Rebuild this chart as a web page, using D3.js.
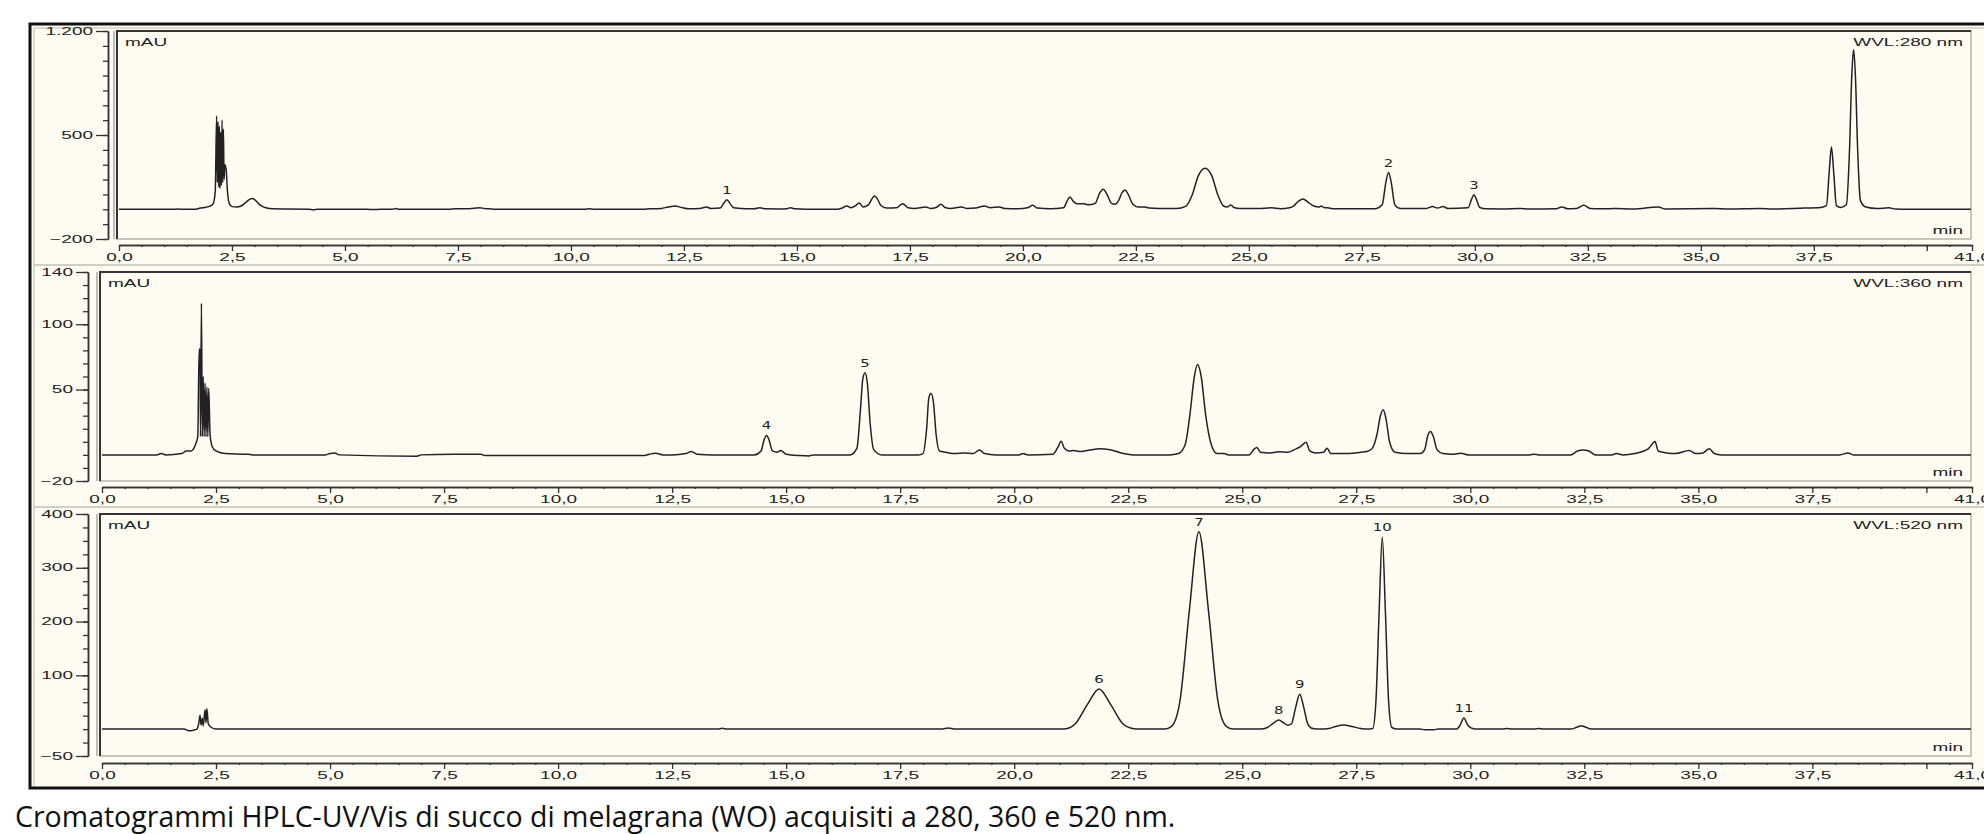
<!DOCTYPE html>
<html>
<head>
<meta charset="utf-8">
<script src="https://cdn.jsdelivr.net/npm/d3@7/dist/d3.min.js"></script>
<style>
  body { margin: 0; background: #fff; }
  svg text { font-family: "Liberation Sans", Arial, sans-serif; }
</style>
</head>
<body>
<div id="chart"></div>
<script>
// ---- data: [time (min), signal (mAU)] ----
var trace280 = [
  [0,0],[1.2,0],[1.3,2],[1.4,0],[1.7,1],[1.8,8],[1.9,12],[2.0,20],[2.08,35],[2.13,120],
  [2.16,628],[2.175,180],[2.19,590],[2.205,150],[2.22,560],[2.235,140],[2.25,520],[2.265,160],
  [2.28,601],[2.295,180],[2.31,540],[2.325,200],[2.34,300],[2.37,270],[2.4,120],[2.44,40],
  [2.5,18],[2.6,15],[2.7,22],[2.8,45],[2.9,68],[2.95,72],[3.02,60],[3.12,30],[3.25,10],[3.4,3],
  [3.7,2],[4.2,1],[4.3,-3],[4.4,0],[5.5,0],[5.6,-2],[5.8,0],[6.05,0],[6.12,5],[6.2,0],[7.3,0],
  [7.45,4],[7.75,4],[7.9,8],[7.98,11],[8.08,5],[8.2,3],[8.3,0],[10.3,0],[10.4,3],[10.5,1],
  [11.6,1],[11.75,4],[11.85,3],[12.0,6],[12.15,15],[12.3,22],[12.45,12],[12.6,3],[12.85,5],
  [13.0,16],[13.1,5],[13.3,8],[13.38,40],[13.45,65],[13.52,38],[13.6,10],[13.75,6],[13.9,3],
  [14.05,4],[14.18,11],[14.3,3],[14.6,2],[14.78,4],[14.86,11],[14.95,3],[15.2,0],[15.9,0],
  [16.0,8],[16.1,22],[16.2,10],[16.3,25],[16.38,43],[16.46,15],[16.58,30],[16.66,70],[16.72,90],
  [16.78,70],[16.86,25],[16.98,8],[17.2,10],[17.34,38],[17.46,10],[17.6,6],[17.85,16],[17.95,6],
  [18.08,12],[18.19,34],[18.28,12],[18.4,6],[18.64,16],[18.75,6],[18.95,8],[19.15,22],[19.28,10],
  [19.48,16],[19.6,5],[19.9,3],[20.1,10],[20.22,27],[20.32,8],[20.6,4],[20.9,10],[20.97,50],
  [21.04,83],[21.11,55],[21.2,38],[21.35,38],[21.45,30],[21.6,40],[21.7,110],[21.78,135],
  [21.86,100],[21.96,40],[22.03,34],[22.12,60],[22.19,110],[22.26,130],[22.33,100],[22.43,35],
  [22.55,15],[22.7,16],[22.8,8],[23.0,5],[23.4,5],[23.6,20],[23.75,100],[23.88,225],[24.03,277],
  [24.18,225],[24.31,100],[24.44,22],[24.52,15],[24.6,29],[24.67,12],[24.8,5],[25.2,5],[25.5,10],[25.7,4],
  [25.9,10],[26.0,25],[26.1,55],[26.2,70],[26.3,50],[26.45,20],[26.55,15],[26.6,22],[26.66,12],
  [26.75,10],[26.85,4],[27.3,3],[27.8,4],[27.95,30],[28.03,180],[28.09,247],[28.15,180],[28.23,30],
  [28.35,6],[28.9,5],[29.07,18],[29.17,8],[29.3,18],[29.4,6],[29.85,10],[29.93,70],[29.98,97],
  [30.03,70],[30.11,12],[30.25,3],[30.6,2],[31.0,5],[31.2,2],[31.8,4],[31.92,16],[32.05,4],
  [32.25,6],[32.41,27],[32.55,6],[32.8,3],[33.1,5],[33.5,2],[34.06,16],[34.2,2],[35.3,5],[35.6,2],
  [36.3,5],[36.6,2],[37.3,8],[37.6,10],[37.78,25],[37.84,250],[37.89,419],[37.94,250],[38.0,25],
  [38.1,12],[38.22,30],[38.29,400],[38.34,900],[38.38,1075],[38.42,900],[38.47,400],[38.53,60],
  [38.65,15],[38.9,5],[39.16,10],[39.3,2],[39.6,0],[41,0]
];

var trace360 = [
  [0,0],[1.2,0],[1.3,1],[1.4,0],[1.75,1],[1.85,3],[1.95,3],[2.05,8],[2.1,14],[2.13,81],[2.15,81],
  [2.16,14],[2.18,116],[2.2,14],[2.22,60],[2.24,14],[2.26,55],[2.28,14],[2.3,52],[2.32,14],
  [2.34,51],[2.37,15],[2.42,6],[2.5,3],[2.7,1],[3.2,0.5],[3.3,0],[4.9,0],[5.0,1],[5.1,1.5],[5.2,0],
  [6.9,-1],[7.0,0],[7.7,0.5],[8.3,0.5],[8.4,-0.5],[11.9,-0.5],[12.0,0.5],[12.14,1.3],[12.3,0],
  [12.5,0],[12.8,1],[12.92,2.6],[13.05,0.5],[13.4,0],[14.3,0],[14.45,3],[14.52,12],[14.57,14.9],
  [14.62,12],[14.7,3],[14.8,2],[14.88,3.3],[15.0,0.5],[15.3,-0.5],[15.5,-0.8],[15.6,0],[16.4,0],
  [16.55,5],[16.63,35],[16.68,58],[16.73,62.8],[16.78,55],[16.84,25],[16.92,4],[17.1,0],[17.9,0],
  [18.0,1],[18.08,20],[18.13,44],[18.18,46.9],[18.23,40],[18.29,15],[18.36,3],[18.5,2],[18.7,1],
  [18.9,1.5],[19.1,1],[19.24,3.8],[19.35,1],[19.6,0],[20.1,0],[20.2,1],[20.3,0],[20.85,0.5],
  [20.96,6],[21.03,10.5],[21.1,5],[21.2,3],[21.3,3.3],[21.45,2.5],[21.7,4],[21.87,4.6],[22.1,4],
  [22.4,1],[22.6,0],[23.4,0],[23.6,1],[23.75,8],[23.85,30],[23.95,60],[24.02,69.2],[24.1,60],
  [24.2,30],[24.32,8],[24.45,1],[24.6,1],[24.7,0],[25.15,0],[25.25,4],[25.32,5.6],[25.4,2],
  [25.6,1.5],[25.8,2.3],[26.0,2],[26.2,5],[26.26,5.9],[26.33,8],[26.4,9.7],[26.48,3],[26.6,1.5],
  [26.78,2],[26.86,5.1],[26.94,1],[27.3,1],[27.6,2],[27.75,2.8],[27.85,5],[27.95,15],[28.03,30],
  [28.09,34.6],[28.15,28],[28.23,10],[28.35,2],[28.6,1],[28.9,1],[29.0,4],[29.07,15],[29.13,17.9],
  [29.19,14],[29.27,4],[29.4,1],[29.6,0.5],[29.8,1.3],[29.95,0],[31.3,0],[31.4,0.5],[31.5,0],
  [32.2,0],[32.35,3],[32.47,3.8],[32.6,3],[32.75,0],[33.1,0],[33.2,1],[33.35,0],[33.6,1],
  [33.9,4.6],[33.98,8],[34.05,10.3],[34.12,3],[34.3,1.5],[34.5,1],[34.8,3.3],[34.95,1],[35.1,1.5],
  [35.24,4.6],[35.35,1],[35.5,0],[38.1,0],[38.28,1.5],[38.4,0],[41,0]
];

var trace520 = [
  [0,0],[1.8,0],[1.9,-3],[2.0,-2],[2.08,0],[2.12,10],[2.15,26],[2.17,8],[2.2,20],[2.22,6],
  [2.26,36],[2.28,12],[2.3,38],[2.33,10],[2.4,3],[2.5,0],[13.5,0],[13.6,1.5],[13.7,0],[18.4,0],
  [18.56,2],[18.7,0],[21.08,0],[21.2,2],[21.34,10],[21.6,45],[21.86,74.7],[22.12,45],[22.38,10],
  [22.55,2],[22.7,0],[23.3,0],[23.45,5],[23.63,50],[23.84,220],[24.05,367],[24.26,220],[24.47,50],
  [24.65,5],[24.8,0],[25.4,0],[25.55,3],[25.7,12],[25.8,16.8],[25.9,12],[26.0,7],[26.08,10],
  [26.17,40],[26.26,65],[26.35,40],[26.44,9],[26.55,1],[26.7,0],[26.9,1],[27.05,5],[27.23,7.5],
  [27.4,5],[27.6,1],[27.75,0],[27.86,1],[27.93,50],[28.0,215],[28.07,357],[28.14,215],[28.21,50],
  [28.28,3],[28.4,0],[28.9,0],[29.0,-1],[29.2,-1],[29.3,0],[29.7,0],[29.78,8],[29.86,20.5],
  [29.94,8],[30.05,1],[30.15,0],[30.7,0],[30.8,1],[30.9,0],[31.4,0],[31.5,1],[31.6,0],[32.2,0],
  [32.35,4],[32.43,6.2],[32.52,4],[32.65,0],[41,0]
];

// numbered peaks: [time, label]
var peaks280 = [[13.45,"1"],[28.09,"2"],[29.98,"3"]];
var peaks360 = [[14.57,"4"],[16.73,"5"]];
var peaks520 = [[21.86,"6"],[24.05,"7"],[25.8,"8"],[26.26,"9"],[28.07,"10"],[29.86,"11"]];

// axes
var xMajorTicks = [0,2.5,5,7.5,10,12.5,15,17.5,20,22.5,25,27.5,30,32.5,35,37.5,40,41];
var xTickLabels = [0,2.5,5,7.5,10,12.5,15,17.5,20,22.5,25,27.5,30,32.5,35,37.5,41];
var yLabels280 = [1200,500,-200];
var yLabels360 = [140,100,50,-20];
var yLabels520 = [400,300,200,100,-50];
var wavelengths = ["WVL:280 nm","WVL:360 nm","WVL:520 nm"];
var caption = "Cromatogrammi HPLC-UV/Vis di succo di melagrana (WO) acquisiti a 280, 360 e 520 nm.";

// ---- layout ----
var W = 1984, H = 834;
var cream = "#fefcf2";
var xEnd = 1972, frameRight = 1971;
var stretch = 1.9;   // the screenshot is stretched horizontally

var it = d3.formatLocale({decimal: ",", thousands: ".", grouping: [3], currency: ["", ""]});
var fmtX = it.format(".1f"), fmtY = it.format(",d");

var panels = [
  {trace: trace280, peaks: peaks280, yDomain: [-200,1200], yStep: 100, yLabels: yLabels280,
   left: 117, axisX: 108, x0: 119, top: 31, bottom: 239, xAxisY: 245},
  {trace: trace360, peaks: peaks360, yDomain: [-20,140], yStep: 10, yLabels: yLabels360,
   left: 100, axisX: 88, x0: 102, top: 272, bottom: 481, xAxisY: 487},
  {trace: trace520, peaks: peaks520, yDomain: [-50,400], yStep: 25, yLabels: yLabels520,
   left: 100, axisX: 88, x0: 102, top: 514, bottom: 756, xAxisY: 763}
];

var svg = d3.select("#chart").append("svg")
    .attr("width", W)
    .attr("height", H);

// outer window frame
svg.append("rect")
    .attr("x", 30).attr("y", 24)
    .attr("width", W).attr("height", 764)
    .style("fill", cream)
    .style("stroke", "#111")
    .style("stroke-width", 3);
svg.append("path")
    .attr("d", "M34,786V28H" + W)
    .style("fill", "none")
    .style("stroke", "#b9b9b2")
    .style("stroke-width", 1);

// thin separators between the three chromatograms
[265, 507].forEach(function(yy) {
  svg.append("line")
      .attr("x1", 34).attr("x2", W)
      .attr("y1", yy).attr("y2", yy)
      .style("stroke", "#cfcfc6")
      .style("stroke-width", 2);
});

var line = d3.line()
    .curve(d3.curveMonotoneX)
    .x(function(d) { return d.x; })
    .y(function(d) { return d.y; });

panels.forEach(function(p, i) {
  var x = d3.scaleLinear().domain([0, 41]).range([p.x0, xEnd]);
  var y = d3.scaleLinear().domain(p.yDomain).range([p.bottom, p.top]);
  var g = svg.append("g");

  // plot frame (sunken look: dark top/left, light bottom/right)
  g.append("rect")
      .attr("x", p.left).attr("y", p.top)
      .attr("width", frameRight - p.left).attr("height", p.bottom - p.top)
      .style("fill", cream)
      .style("stroke", "#b4b4ac")
      .style("stroke-width", 1.5);
  g.append("path")
      .attr("d", "M" + p.left + "," + p.bottom + "V" + p.top + "H" + frameRight)
      .style("fill", "none")
      .style("stroke", "#333")
      .style("stroke-width", 2);
  g.append("line")
      .attr("x1", p.left - 3).attr("x2", p.left - 3)
      .attr("y1", p.top).attr("y2", p.bottom)
      .style("stroke", "#a8a8a0")
      .style("stroke-width", 1.5);

  // trace
  var clipId = "clip" + i;
  g.append("clipPath").attr("id", clipId)
    .append("rect")
      .attr("x", p.left + 1).attr("y", p.top + 1)
      .attr("width", frameRight - p.left - 1).attr("height", p.bottom - p.top - 1);

  var pts = p.trace.map(function(d) { return {x: x(d[0]), y: y(d[1])}; });
  g.append("path")
      .datum(pts)
      .attr("clip-path", "url(#" + clipId + ")")
      .style("fill", "none")
      .style("stroke", "#222")
      .style("stroke-width", 1.5)
      .style("stroke-linejoin", "round")
      .attr("d", line);

  // peak numbers, placed over each apex
  p.peaks.forEach(function(pk) {
    var near = p.trace.filter(function(d) { return Math.abs(d[0] - pk[0]) < 0.06; });
    var apex = d3.max(near, function(d) { return d[1]; });
    g.append("text")
        .attr("transform", "translate(" + x(pk[0]) + "," + (y(apex) - 6) + ") scale(1.35,1)")
        .attr("text-anchor", "middle")
        .style("font-family", "'DejaVu Sans', Verdana, sans-serif")
        .style("font-size", "11px")
        .style("fill", "#222")
        .text(pk[1]);
  });

  // texts inside the frame
  g.append("text")
      .attr("transform", "translate(" + (p.left + 8) + "," + (p.top + 15) + ") scale(" + stretch + ",1)")
      .style("font-size", "10px").style("fill", "#222")
      .text("mAU");
  g.append("text")
      .attr("transform", "translate(" + (frameRight - 8) + "," + (p.top + 15) + ") scale(" + stretch + ",1)")
      .attr("text-anchor", "end")
      .style("font-size", "10px").style("fill", "#222")
      .text(wavelengths[i]);
  g.append("text")
      .attr("transform", "translate(" + (frameRight - 8) + "," + (p.bottom - 5) + ") scale(" + stretch + ",1)")
      .attr("text-anchor", "end")
      .style("font-size", "10px").style("fill", "#222")
      .text("min");

  // y axis: minor ticks, then labelled major ticks
  var yMinor = d3.range(p.yDomain[0], p.yDomain[1] + 0.001, p.yStep);
  g.append("g")
      .attr("transform", "translate(" + p.axisX + ",0)")
      .call(d3.axisLeft(y).tickValues(yMinor).tickSize(5).tickSizeOuter(0).tickFormat(""));
  var ya = g.append("g")
      .attr("transform", "translate(" + p.axisX + ",0)")
      .call(d3.axisLeft(y).tickValues(p.yLabels).tickSize(12).tickSizeOuter(0).tickPadding(3)
        .tickFormat(fmtY));
  ya.selectAll("text")
      .attr("x", -15 / stretch)
      .attr("transform", "scale(" + stretch + ",1)")
      .style("font-size", "10px").style("fill", "#222");

  // x axis
  var xMinor = d3.range(0, 41.001, 0.5);
  g.append("g")
      .attr("transform", "translate(0," + p.xAxisY + ")")
      .call(d3.axisBottom(x).tickValues(xMinor).tickSize(2).tickSizeOuter(0).tickFormat(""));
  var xa = g.append("g")
      .attr("transform", "translate(0," + p.xAxisY + ")")
      .call(d3.axisBottom(x).tickValues(xMajorTicks).tickSize(6).tickSizeOuter(0).tickPadding(3)
        .tickFormat(function(d) { return xTickLabels.indexOf(d) >= 0 ? fmtX(d) : ""; }));
  xa.selectAll("text")
      .attr("transform", "scale(" + stretch + ",1)")
      .style("font-size", "10px").style("fill", "#222");

  g.selectAll(".domain").style("stroke", "#333").style("stroke-width", 1.5);
  g.selectAll(".tick line").style("stroke", "#333").style("stroke-width", 1.3);
});

// caption under the figure
svg.append("text")
    .attr("x", 15).attr("y", 827)
    .style("font-family", "'Open Sans', 'Noto Sans', sans-serif")
    .style("font-size", "28.5px")
    .style("fill", "#111")
    .text(caption);
</script>
</body>
</html>
